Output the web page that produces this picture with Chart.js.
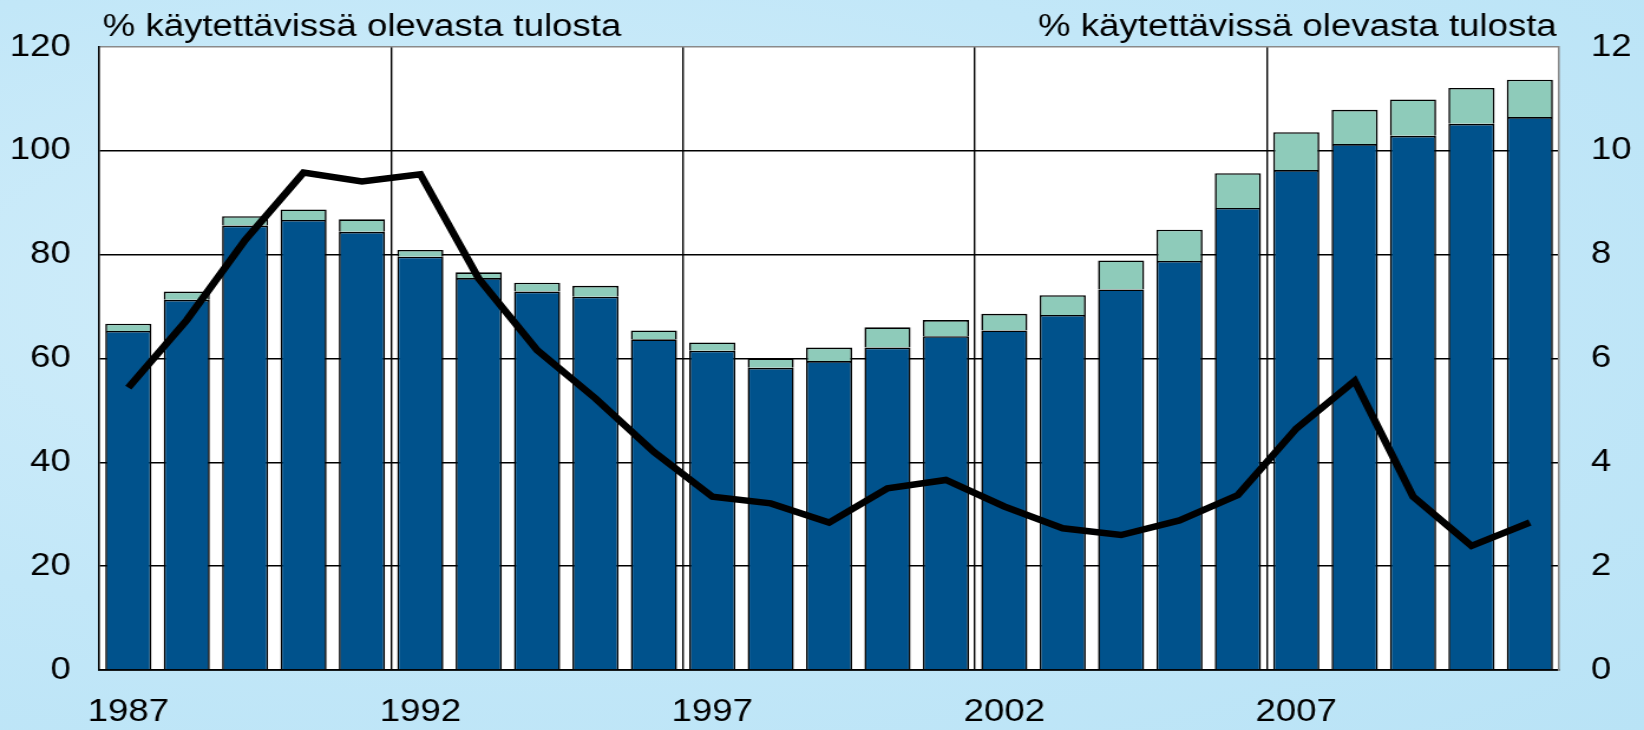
<!DOCTYPE html>
<html>
<head>
<meta charset="utf-8">
<script src="https://cdn.jsdelivr.net/npm/chart.js"></script>
<style>
html, body { margin: 0; padding: 0; overflow: hidden; }
body {
  width: 1644px; height: 730px;
  background: radial-gradient(ellipse at 30% 40%, #d3eefa 0%, #c2e7f8 55%, #b9e3f6 100%);
}
/* alkuperäinen kuva on venytetty vaakasuunnassa, joten venytetään samoin */
#wrap { width: 1393px; height: 730px; transform: scaleX(1.1802); transform-origin: 0 0; }
</style>
</head>
<body>
<div id="wrap"><canvas id="kuvio"></canvas></div>
<script>
// vuodet 1987-2011
var vuodet = ['1987','1988','1989','1990','1991','1992','1993','1994','1995','1996',
  '1997','1998','1999','2000','2001','2002','2003','2004','2005','2006',
  '2007','2008','2009','2010','2011'];
// tumma pylvas, % käytettävissä olevasta tulosta (vasen asteikko)
var tummaOsa = [65.3, 71.3, 85.6, 86.7, 84.4, 79.6, 75.5, 72.9, 71.9, 63.7,
  61.5, 58.2, 59.5, 62.1, 64.3, 65.4, 68.4, 73.3, 78.8, 89.0,
  96.3, 101.3, 102.9, 105.2, 106.5];
// vaalea osa pylvaan paalla
var vaaleaOsa = [1.4, 1.6, 1.8, 2.0, 2.4, 1.3, 1.1, 1.7, 2.1, 1.7,
  1.6, 1.8, 2.6, 3.9, 3.1, 3.2, 3.8, 5.6, 6.0, 6.7,
  7.3, 6.6, 7.0, 6.9, 7.2];
// viiva, oikea asteikko
var viiva = [5.44, 6.74, 8.28, 9.58, 9.41, 9.55, 7.54, 6.16, 5.23, 4.20,
  3.34, 3.21, 2.84, 3.50, 3.66, 3.15, 2.73, 2.60, 2.88, 3.37,
  4.65, 5.57, 3.34, 2.39, 2.84];
var otsikko = '% käytettävissä olevasta tulosta';

var fontti = '"Liberation Sans", Arial, sans-serif';

// valkoinen kuvioalue ja otsikot
var taustaPlugin = {
  id: 'tausta',
  beforeDraw: function(chart) {
    var c = chart.ctx, a = chart.chartArea;
    c.save();
    c.fillStyle = '#ffffff';
    c.fillRect(a.left, a.top, a.right - a.left, a.bottom - a.top);
    c.restore();
  },
  afterDraw: function(chart) {
    var c = chart.ctx, a = chart.chartArea;
    c.save();
    c.fillStyle = '#000';
    c.font = '31px ' + fontti;
    c.textBaseline = 'alphabetic';
    c.textAlign = 'left';
    c.fillText(otsikko, a.left + 3, 36);
    c.textAlign = 'right';
    c.fillText(otsikko, a.right - 2, 36);
    c.restore();
  }
};

new Chart(document.getElementById('kuvio'), {
  data: {
    labels: vuodet,
    datasets: [{
      type: 'line',
      data: viiva,
      yAxisID: 'y1',
      borderColor: '#000000',
      borderWidth: 6.5,
      borderJoinStyle: 'miter',
      pointRadius: 0,
      tension: 0,
      order: 0
    }, {
      type: 'bar',
      data: tummaOsa,
      backgroundColor: '#00528c',
      borderColor: '#000000',
      borderWidth: 1.6,
      barPercentage: 0.79,
      categoryPercentage: 1,
      order: 1
    }, {
      type: 'bar',
      data: vaaleaOsa,
      backgroundColor: '#8ecbba',
      borderColor: '#000000',
      borderWidth: 1.6,
      barPercentage: 0.79,
      categoryPercentage: 1,
      order: 2
    }]
  },
  options: {
    responsive: true,
    maintainAspectRatio: false,
    animation: false,
    layout: { padding: { top: 47, left: 0, right: 0, bottom: 0 } },
    plugins: { legend: { display: false }, tooltip: { enabled: false } },
    scales: {
      x: {
        stacked: true,
        offset: true,
        afterFit: function(s) { s.height = 60; },
        grid: {
          offset: true,
          drawTicks: false,
          lineWidth: 1.4,
          color: function(ctx) { return (ctx.index % 5 === 0 && ctx.index > 0) ? '#000' : 'rgba(0,0,0,0)'; }
        },
        border: { color: '#000', width: 1.8 },
        ticks: {
          autoSkip: false,
          maxRotation: 0,
          padding: 24,
          color: '#000',
          font: { size: 31, family: fontti },
          callback: function(v, i) { return i % 5 === 0 ? vuodet[i] : ''; }
        }
      },
      y: {
        stacked: true,
        min: 0, max: 120,
        afterFit: function(s) { s.width = 84; },
        grid: {
          drawTicks: false,
          lineWidth: 1.6,
          color: function(ctx) { return ctx.tick.value === 120 ? '#8a8a8a' : '#000'; }
        },
        border: { color: '#000', width: 1.6 },
        ticks: { stepSize: 20, padding: 24, color: '#000', font: { size: 31, family: fontti } }
      },
      y1: {
        position: 'right',
        min: 0, max: 12,
        afterFit: function(s) { s.width = 72; },
        grid: { display: false, drawTicks: false },
        border: { color: '#8a8a8a', width: 1.6 },
        ticks: { stepSize: 2, padding: 27, color: '#000', font: { size: 31, family: fontti } }
      }
    }
  },
  plugins: [taustaPlugin]
});
</script>
</body>
</html>
